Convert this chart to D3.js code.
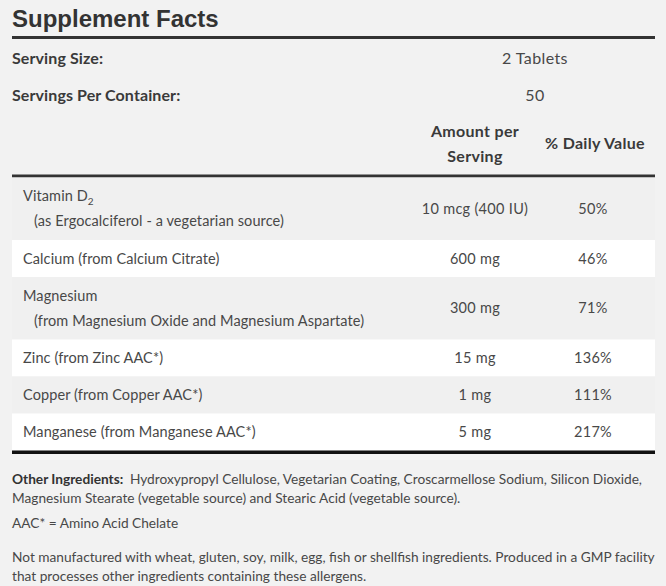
<!DOCTYPE html>
<html>
<head>
<meta charset="utf-8">
<script src="https://cdn.jsdelivr.net/npm/d3@7"></script>
<style>
  body { margin: 0; background: #f2f2f2; }
  svg { display: block; }
</style>
</head>
<body>
<div id="chart-area"></div>
<script>
// Table content
var nutrients = ["Vitamin D", "Calcium (from Calcium Citrate)", "Magnesium", "Zinc (from Zinc AAC*)", "Copper (from Copper AAC*)", "Manganese (from Manganese AAC*)"];
var subscripts = ["2", "", "", "", "", ""];
var sources = ["(as Ergocalciferol - a vegetarian source)", "", "(from Magnesium Oxide and Magnesium Aspartate)", "", "", ""];
var amounts = ["10 mcg (400 IU)", "600 mg", "300 mg", "15 mg", "1 mg", "5 mg"];
var dailyValues = ["50%", "46%", "71%", "136%", "111%", "217%"];

var servingLabels = ["Serving Size:", "Servings Per Container:"];
var servingValues = ["2 Tablets", "50"];

var otherIngredients = ["Hydroxypropyl Cellulose, Vegetarian Coating, Croscarmellose Sodium, Silicon Dioxide,",
    "Magnesium Stearate (vegetable source) and Stearic Acid (vegetable source)."];
var footnotes = ["AAC* = Amino Acid Chelate"];
var allergenNote = ["Not manufactured with wheat, gluten, soy, milk, egg, fish or shellfish ingredients. Produced in a GMP facility",
    "that processes other ingredients containing these allergens."];

var width = 666, height = 586;
var left = 12, right = 655;
var font = "Lato, 'Open Sans', sans-serif";
var textColor = "#484848";

var svg = d3.select("#chart-area")
    .append("svg")
    .attr("width", width)
    .attr("height", height);

svg.append("rect")
    .attr("width", width)
    .attr("height", height)
    .attr("fill", "#f2f2f2");

// Title
svg.append("text")
    .attr("x", left)
    .attr("y", 27)
    .attr("font-family", "'Liberation Sans', Arial, sans-serif")
    .attr("font-weight", "bold")
    .attr("font-size", 24)
    .attr("fill", "#333")
    .text("Supplement Facts");

svg.append("rect")
    .attr("x", left).attr("y", 36).attr("width", right - left).attr("height", 3)
    .attr("fill", "#333");

// Serving info
var servingY = d3.scalePoint().domain(servingLabels).range([58, 95]);

svg.selectAll(".serving-label")
    .data(servingLabels)
    .enter().append("text")
    .attr("class", "serving-label")
    .attr("x", left)
    .attr("y", d => servingY(d))
    .attr("dy", "0.35em")
    .attr("font-family", font)
    .attr("font-weight", "bold")
    .attr("font-size", 16)
    .attr("letter-spacing", 0.1)
    .attr("fill", "#3a3a3a")
    .text(d => d);

svg.selectAll(".serving-value")
    .data(servingValues)
    .enter().append("text")
    .attr("class", "serving-value")
    .attr("x", 535)
    .attr("y", (d, i) => servingY(servingLabels[i]))
    .attr("dy", "0.35em")
    .attr("text-anchor", "middle")
    .attr("font-family", font)
    .attr("font-size", 16)
    .attr("letter-spacing", 0.4)
    .attr("fill", textColor)
    .text(d => d);

// Column headers
var amountX = 475, dvX = 595;

var headers = [
    { label: "Amount per", x: amountX, y: 131 },
    { label: "Serving", x: amountX, y: 156 },
    { label: "% Daily Value", x: dvX, y: 143 }
];

svg.selectAll(".header")
    .data(headers)
    .enter().append("text")
    .attr("class", "header")
    .attr("x", d => d.x)
    .attr("y", d => d.y)
    .attr("dy", "0.35em")
    .attr("text-anchor", "middle")
    .attr("font-family", font)
    .attr("font-weight", "bold")
    .attr("font-size", 16)
    .attr("letter-spacing", 0.3)
    .attr("fill", "#3a3a3a")
    .text(d => d.label);

svg.append("rect")
    .attr("x", left).attr("y", 174.5).attr("width", right - left).attr("height", 3)
    .attr("fill", "#333");

// Rows: height depends on whether there is a source line
var rowTop = 177.5;
var rows = nutrients.map(function(name, i) {
    var h = sources[i] ? 62.5 : 37;
    var r = { name: name, sub: subscripts[i], source: sources[i], amount: amounts[i], dv: dailyValues[i], y: rowTop, h: h, i: i };
    rowTop += h;
    return r;
});

var row = svg.selectAll(".row")
    .data(rows)
    .enter().append("g")
    .attr("class", "row")
    .attr("transform", d => "translate(0," + d.y + ")");

row.append("rect")
    .attr("x", left)
    .attr("width", right - left)
    .attr("height", d => d.h)
    .attr("fill", d => d.i % 2 === 0 ? "#f0f0f0" : "#ffffff");

var cellText = function(sel) {
    return sel.attr("dy", "0.35em")
        .attr("font-family", font)
        .attr("font-size", 14.5)
        .attr("letter-spacing", 0.1)
        .attr("fill", textColor);
};

var nameText = row.append("text")
    .attr("x", 23)
    .attr("y", 18.5)
    .call(cellText);

nameText.append("tspan").text(d => d.name);
nameText.filter(d => d.sub).append("tspan")
    .attr("font-size", 10)
    .attr("dy", 4)
    .text(d => d.sub);

row.filter(d => d.source).append("text")
    .attr("x", 34)
    .attr("y", 43.5)
    .call(cellText)
    .text(d => d.source);

row.append("text")
    .attr("x", amountX)
    .attr("y", d => d.h / 2)
    .attr("text-anchor", "middle")
    .call(cellText)
    .attr("letter-spacing", 0.3)
    .text(d => d.amount);

row.append("text")
    .attr("x", 593)
    .attr("y", d => d.h / 2)
    .attr("text-anchor", "middle")
    .call(cellText)
    .attr("letter-spacing", 0.3)
    .text(d => d.dv);

svg.append("rect")
    .attr("x", left).attr("y", rowTop).attr("width", right - left).attr("height", 3.5)
    .attr("fill", "#111");

// Notes below the table
var noteText = function(sel) {
    return sel.attr("x", left)
        .attr("dy", "0.35em")
        .attr("font-family", font)
        .attr("font-size", 13.7)
        .attr("fill", textColor);
};

var oi = svg.selectAll(".other")
    .data(otherIngredients)
    .enter().append("text")
    .attr("class", "other")
    .attr("y", (d, i) => 479 + i * 19.5)
    .call(noteText);

oi.filter((d, i) => i === 0).append("tspan")
    .attr("font-weight", "bold")
    .attr("fill", "#333")
    .text("Other Ingredients:\u00a0 ");
oi.append("tspan").text(d => d);

svg.selectAll(".foot")
    .data(footnotes)
    .enter().append("text")
    .attr("class", "foot")
    .attr("y", 523)
    .call(noteText)
    .text(d => d);

svg.selectAll(".allergen")
    .data(allergenNote)
    .enter().append("text")
    .attr("class", "allergen")
    .attr("y", (d, i) => 557 + i * 19.5)
    .call(noteText)
    .text(d => d);
</script>
</body>
</html>
